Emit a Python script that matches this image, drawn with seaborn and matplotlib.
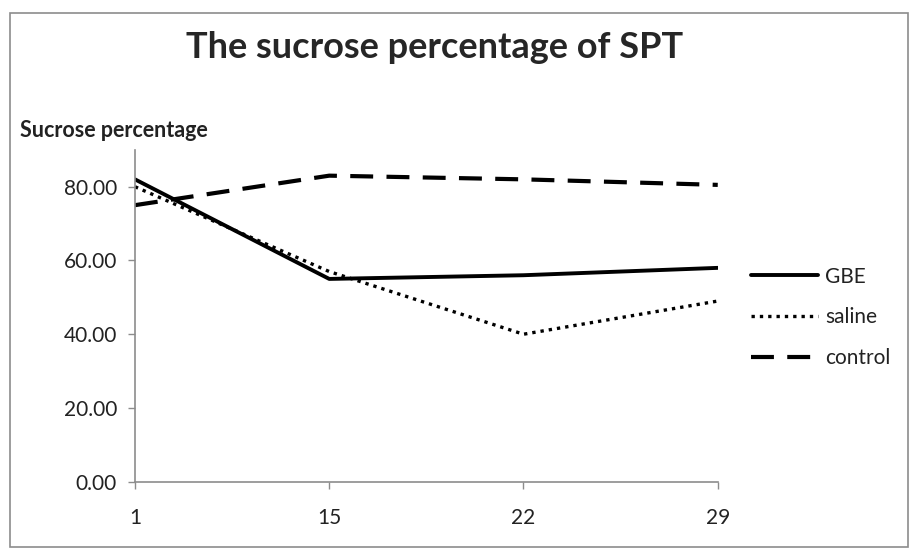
import pandas as pd
import matplotlib.pyplot as plt
import seaborn as sns

# days of the test and sucrose percentage per group
days = ['1', '15', '22', '29']
gbe = [82.0, 55.0, 56.0, 58.0]
saline = [80.0, 57.0, 40.0, 49.0]
control = [75.0, 83.0, 82.0, 80.5]

df = pd.DataFrame({
    'day': days * 3,
    'value': gbe + saline + control,
    'group': ['GBE'] * 4 + ['saline'] * 4 + ['control'] * 4,
})

sns.set_style('white')
plt.rcParams['font.family'] = ['Lato', 'DejaVu Sans']

fig = plt.figure(figsize=(9.12, 5.55), dpi=100)
ax = fig.add_axes([0.148, 0.132, 0.639, 0.598])

styles = {
    'GBE': dict(linestyle='-', lw=2.8),
    'saline': dict(linestyle=(0, (1, 1.5)), lw=2.4),
    'control': dict(linestyle=(0, (5.5, 3.2)), lw=3.0),
}
for name, grp in df.groupby('group', sort=False):
    sns.lineplot(data=grp, x='day', y='value', ax=ax, color='black',
                 label=name, **styles[name])

ax.set_xlim(0, 3)
ax.set_ylim(0, 90)
ax.set_yticks([0, 20, 40, 60, 80])
ax.set_yticklabels([f'{v:.2f}' for v in [0, 20, 40, 60, 80]])
ax.set_xlabel('')
ax.set_ylabel('')
for s in ['top', 'right']:
    ax.spines[s].set_visible(False)
for s in ['left', 'bottom']:
    ax.spines[s].set_color('#8c8c8c')
    ax.spines[s].set_linewidth(1.2)
ax.tick_params(axis='both', direction='out', length=5, width=1, color='#8c8c8c',
               labelsize=15, labelcolor='#222222', left=True, bottom=True)
ax.tick_params(axis='x', pad=14)
ax.tick_params(axis='y', pad=8)

fig.text(0.477, 0.915, 'The sucrose percentage of SPT', ha='center', va='center',
         fontsize=26, fontweight='bold')
fig.text(0.022, 0.765, 'Sucrose percentage', ha='left', va='center',
         fontsize=15.5, fontweight='bold', color='#222222')

leg = ax.legend(loc='center left', bbox_to_anchor=(1.025, 0.495), frameon=False,
                fontsize=15, handlelength=3.2, handletextpad=0.35,
                labelspacing=1.0)
for t in leg.get_texts():
    t.set_color('#222222')

# outer chart frame
fig.patches.append(plt.Rectangle((0.011, 0.015), 0.985, 0.962, transform=fig.transFigure,
                                 fill=False, edgecolor='#8c8c8c', lw=1.2))

fig.savefig('out.png', dpi=100)
